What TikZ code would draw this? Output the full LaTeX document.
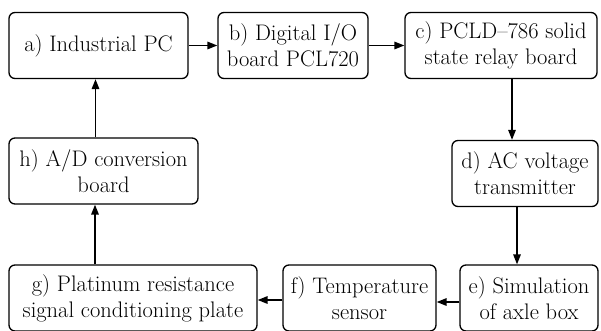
\documentclass[tikz,border=0pt]{standalone}
\usepackage{tikz}
\usetikzlibrary{positioning}
\usetikzlibrary{arrows.meta}

\tikzset{
  blk/.style={draw=black, rounded corners=6pt, line width=1.3pt, align=center, inner sep=0pt,
    minimum height=66pt, font=\fontsize{22.5}{26}\selectfont},
  flow/.style={line width=1.5pt, -{Triangle[length=10pt,width=7.5pt]}}
}

\begin{document}
\begin{tikzpicture}
\useasboundingbox (0pt,0pt) rectangle (601pt,-331pt);
\node (pc) [blk, minimum width=179pt] at (98.5pt, -45.5pt) {a) Industrial PC};
\node (dio) [blk, minimum width=150pt] at (293pt, -45.5pt) {b) Digital I/O\\board PCL720};
\node (relay) [blk, minimum width=192pt] at (501pt, -45.5pt) {c) PCLD--786 solid\\state relay board};
\node (acv) [blk, minimum width=146pt] at (525pt, -173.5pt) {d) AC voltage\\transmitter};
\node (axle) [blk, minimum width=138pt] at (529pt, -298pt) {e) Simulation\\of axle box};
\node (temp) [blk, minimum width=153pt] at (359.5pt, -298pt) {f) Temperature\\sensor};
\node (plat) [blk, minimum width=248pt] at (133pt, -298pt) {g) Platinum resistance\\signal conditioning plate};
\node (adc) [blk, minimum width=189pt] at (103.5pt, -171pt) {h) A/D conversion\\board};
\draw [flow] (pc) to (dio);
\draw [flow] (dio) to (relay);
\draw [flow] ([xshift=11pt]relay.south) to ([xshift=11pt]relay.south |- acv.north);
\draw [flow] ([xshift=-8pt]acv.south) to ([xshift=-8pt]acv.south |- axle.north);
\draw [flow] ([yshift=-4pt]axle.west) to ([yshift=-4pt]axle.west -| temp.east);
\draw [flow] ([yshift=-2pt]temp.west) to ([yshift=-2pt]temp.west -| plat.east);
\draw [flow] ([xshift=-38pt]plat.north) to ([xshift=-38pt]plat.north |- adc.south);
\draw [flow] ([xshift=-8pt]adc.north) to ([xshift=-8pt]adc.north |- pc.south);
\end{tikzpicture}
\end{document}
